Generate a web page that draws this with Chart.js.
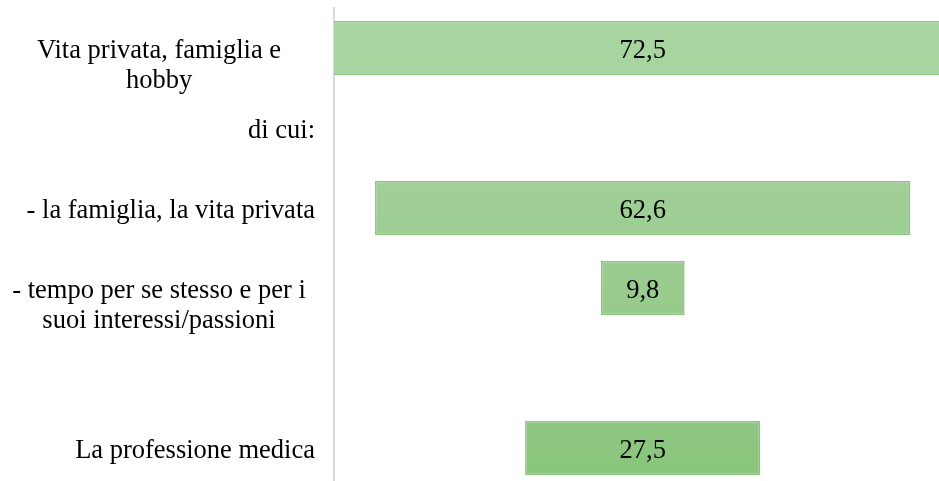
<!DOCTYPE html>
<html>
<head>
<meta charset="utf-8">
<script src="https://cdn.jsdelivr.net/npm/chart.js@4/dist/chart.umd.min.js"></script>
<style>
html,body{margin:0;padding:0;background:#fff;overflow:hidden;width:939px;height:481px;}
canvas{display:block;}
</style>
</head>
<body>
<canvas id="c" width="939" height="490"></canvas>
<script>
const categories = [
  ['Vita privata, famiglia e', 'hobby'],
  'di cui:',
  '- la famiglia, la vita privata',
  ['- tempo per se stesso e per i', 'suoi interessi/passioni'],
  '',
  'La professione medica'
];
const values = [72.5, null, 62.6, 9.8, null, 27.5];

const FONT = '26.5px "Liberation Serif", "Times New Roman", serif';

// centred floating bars built from the values
const floating = values.map(v => v == null ? null : [-v / 2, v / 2]);

function fmt(v) { return v.toFixed(1).replace('.', ','); }

const labelPlugin = {
  id: 'labels',
  afterDraw(chart) {
    const ctx = chart.ctx;
    const y = chart.scales.y;
    ctx.save();
    ctx.font = FONT;
    ctx.fillStyle = '#000';
    ctx.textBaseline = 'alphabetic';
    categories.forEach((lab, i) => {
      const cy = y.getPixelForValue(i);
      if (Array.isArray(lab)) {
        ctx.textAlign = 'center';
        lab.forEach((line, k) => ctx.fillText(line, 159, cy + 10 + k * 30));
      } else if (lab) {
        ctx.textAlign = 'right';
        ctx.fillText(lab, 315, cy + 10);
      }
    });
    // value labels
    const meta = chart.getDatasetMeta(0);
    ctx.textAlign = 'center';
    meta.data.forEach((el, i) => {
      if (values[i] == null) return;
      const p = el.getProps(['x', 'y', 'base'], true);
      ctx.fillText(fmt(values[i]), (p.x + p.base) / 2, p.y + 10);
    });
    ctx.restore();
  }
};

new Chart(document.getElementById('c'), {
  type: 'bar',
  data: {
    labels: categories,
    datasets: [{
      data: floating,
      backgroundColor: (c) => {
        const ca = c.chart.chartArea;
        if (!ca) return '#9ccd92';
        const g = c.chart.ctx.createLinearGradient(0, ca.top, 0, ca.bottom);
        g.addColorStop(0, '#abd6a3');
        g.addColorStop(0.5, '#9ccd92');
        g.addColorStop(1, '#88c47b');
        return g;
      },
      borderColor: '#86c47a',
      borderWidth: 1.5,
      borderSkipped: false,
      barPercentage: 0.675,
      categoryPercentage: 1
    }]
  },
  options: {
    indexAxis: 'y',
    responsive: false,
    animation: false,
    layout: { padding: { left: 334, top: 8, right: 0, bottom: 2 } },
    plugins: { legend: { display: false }, tooltip: { enabled: false } },
    scales: {
      x: { display: false, min: -36.1, max: 34.65 },
      y: {
        display: true,
        ticks: { display: false },
        grid: { display: false, drawTicks: false },
        border: { display: true, color: '#d9d9d9', width: 2 }
      }
    }
  },
  plugins: [labelPlugin]
});
</script>
</body>
</html>
